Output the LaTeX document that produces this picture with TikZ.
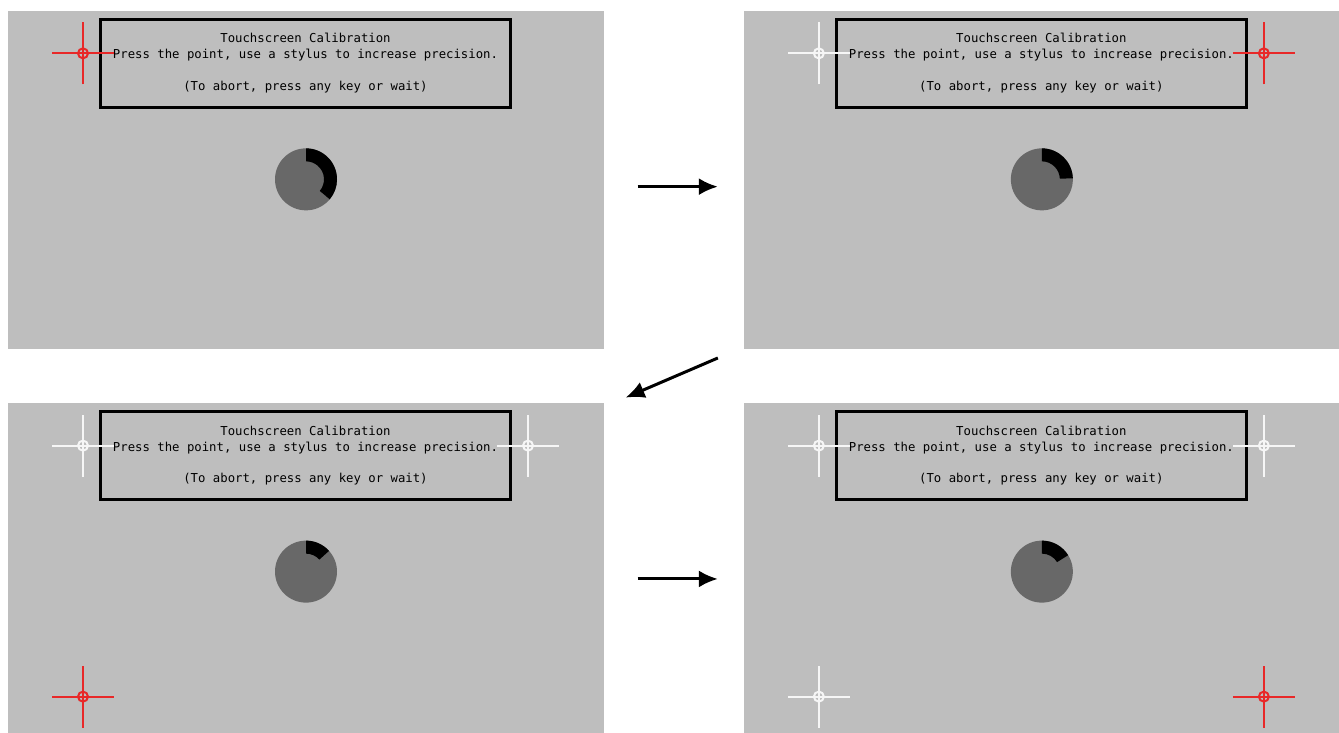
\documentclass[tikz,border=0pt]{standalone}
\usepackage{fontspec}
\newfontfamily\calfont{DejaVu Sans Mono}
\usetikzlibrary{arrows.meta,matrix}
\usepackage{xcolor}
\definecolor{panelgray}{RGB}{190,190,190}
\definecolor{dialgray}{RGB}{104,104,104}
\definecolor{hitred}{RGB}{232,40,40}
\definecolor{donewhite}{RGB}{246,246,246}

\tikzset{
  crosshair/.pic={
    \draw[line width=0.04cm] (-31,0) -- (31,0) (0,-31) -- (0,31);
    \draw[line width=0.04cm] (0,0) circle[radius=5];
  }
}

% one calibration screen: panel name, end angle of the countdown ring
\newcommand{\calscreen}[2]{
  \begin{scope}[shift={(#1.north west)}]
    \node[msgbox] (#1msg) at (297.5,-53) {Touchscreen Calibration\\Press the point, use a stylus to increase precision.\\[9pt](To abort, press any key or wait)};
    \fill[dialgray] (298,-169) circle[radius=31];
    \fill[black] (298,-169) ++(90:31) arc[start angle=90,end angle=#2,radius=31]
      -- ++({#2+180}:13) arc[start angle=#2,end angle=90,radius=18] -- cycle;
  \end{scope}
}

\begin{document}
\begin{tikzpicture}[x=0.02cm,y=0.02cm]
\tikzstyle{screen} = [rectangle, fill=panelgray, minimum width=11.92cm,
minimum height=6.76cm, inner sep=0pt]
\tikzstyle{msgbox} = [rectangle, draw=black, line width=0.06cm, minimum width=8.2cm,
minimum height=1.76cm, inner sep=0pt, align=center, font=\calfont\fontsize{7}{9.07}\selectfont]
\tikzstyle{flow} = [draw, line width=0.06cm, -{Latex[length=0.38cm,width=0.34cm]}]
\useasboundingbox (0,0) rectangle (1339,-733);
\matrix [column sep=2.8cm,row sep=1.08cm,inner sep=0pt,anchor=north west] at (8,-10)
{
% row 1
\node [screen] (tl) {}; & \node [screen] (tr) {}; \\
% row 2
\node [screen] (bl) {}; & \node [screen] (br) {}; \\
};
\calscreen{tl}{-40}
\calscreen{tr}{2}
\calscreen{bl}{42}
\calscreen{br}{32}
% crosshairs: white = already touched, red = current point
\pic[color=hitred] at ([shift={(75,-43)}]tl.north west) {crosshair};
\pic[color=donewhite] at ([shift={(75,-43)}]tr.north west) {crosshair};
\pic[color=hitred] at ([shift={(520,-43)}]tr.north west) {crosshair};
\pic[color=donewhite] at ([shift={(75,-43)}]bl.north west) {crosshair};
\pic[color=donewhite] at ([shift={(520,-43)}]bl.north west) {crosshair};
\pic[color=hitred] at ([shift={(75,-294)}]bl.north west) {crosshair};
\pic[color=donewhite] at ([shift={(75,-43)}]br.north west) {crosshair};
\pic[color=donewhite] at ([shift={(520,-43)}]br.north west) {crosshair};
\pic[color=donewhite] at ([shift={(75,-294)}]br.north west) {crosshair};
\pic[color=hitred] at ([shift={(520,-294)}]br.north west) {crosshair};
% arrows between the screens
\path (tl.east) ++(33,-7) coordinate (a1) (tr.west) ++(-26,-7) coordinate (a2);
\path (tr.south west) ++(-26,-9) coordinate (b1) (bl.north east) ++(21,5) coordinate (b2);
\path (bl.east) ++(33,-7) coordinate (c1) (br.west) ++(-26,-7) coordinate (c2);
\draw[flow] (a1) -- (a2);
\draw[flow] (b1) -- (b2);
\draw[flow] (c1) -- (c2);
\end{tikzpicture}
\end{document}
